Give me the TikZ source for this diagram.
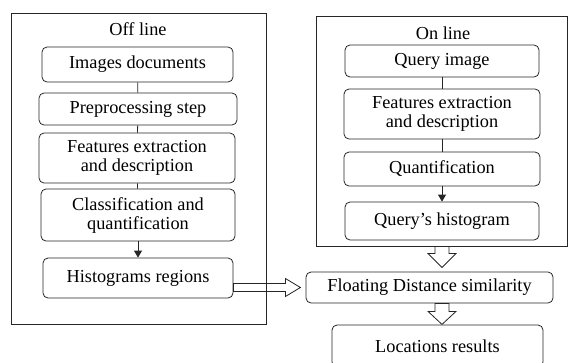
\documentclass[tikz,border=0pt]{standalone}
\usepackage{fontspec}
\setmainfont{Liberation Serif}
\usepackage{tikz}
\usetikzlibrary{arrows.meta,calc,positioning}

\begin{document}
\begin{tikzpicture}[x=1pt,y=-1pt,
    every node/.style={font=\fontsize{18.3}{19}\selectfont},
    frame/.style={draw=black!85,line width=0.9pt,inner sep=0pt},
    stepbox/.style={draw=black!85,line width=0.8pt,rounded corners=5pt,align=center,inner sep=0pt},
    link/.style={draw=black!85,line width=0.8pt},
    hollow/.style={draw=black!85,line width=0.8pt}]
    \useasboundingbox (0,0) rectangle (569,362);
    \clip (0,0) rectangle (569,362);

    % Frames
    \node[frame,minimum width=255pt,minimum height=311pt] (offframe) at (138.5,168.5) {};
    \node (offtitle) at (138,29) {Off line};
    \node[frame,minimum width=251pt,minimum height=230pt] (onframe) at (442,131) {};
    \node (ontitle) at (443,33) {On line};

    % Off line steps
    \node[stepbox,minimum width=191pt,minimum height=35pt] (imgdocs) at (137.5,64.5) {Images documents};
    \node[stepbox,minimum width=198pt,minimum height=32pt] (preproc) at (138,109) {Preprocessing step};
    \node[stepbox,minimum width=196pt,minimum height=50pt] (featoff) at (137,158) {Features extraction\\and description};
    \node[stepbox,minimum width=194pt,minimum height=52pt] (classif) at (138,215) {Classification and\\quantification};
    \node[stepbox,minimum width=190pt,minimum height=40pt] (histreg) at (138,278) {Histograms regions};

    % On line steps
    \node[stepbox,minimum width=194pt,minimum height=32pt] (query) at (442,61) {Query image};
    \node[stepbox,minimum width=196pt,minimum height=50pt] (featon) at (442,114) {Features extraction\\and description};
    \node[stepbox,minimum width=196pt,minimum height=34pt] (quant) at (442,169) {Quantification};
    \node[stepbox,minimum width=194pt,minimum height=38pt] (queryhist) at (442,221) {Query's histogram};

    % Matching
    \node[stepbox,minimum width=247pt,minimum height=31pt] (floatdist) at (429.5,287.5) {Floating Distance similarity};
    \node[stepbox,minimum width=211pt,minimum height=42pt] (locres) at (437.5,346) {Locations results};

    % Links
    \draw[link] (imgdocs) -- (preproc);
    \draw[link] (preproc) -- (featoff);
    \draw[link] (featoff) -- (classif);
    \draw[link,-{Triangle[length=7pt,width=8pt]}] (classif) -- (histreg);
    \draw[link] (query) -- (featon);
    \draw[link] (featon) -- (quant);
    \draw[link,-{Triangle[length=7pt,width=8pt]}] (quant) -- (queryhist);

    % Hollow arrows
    \draw[hollow] (histreg.east |- floatdist.west) ++(0,4pt) -- ++(52pt,0) -- ++(0,5pt)
        -- ++(15pt,-9pt) -- ++(-15pt,-9pt) -- ++(0,5pt) -- ++(-52pt,0) -- cycle;
    \draw[hollow] (onframe.south) ++(-7pt,0) -- ++(0,-7pt) -- ++(-7pt,0) -- ++(14pt,-14pt)
        -- ++(14pt,14pt) -- ++(-7pt,0) -- ++(0,7pt) -- cycle;
    \draw[hollow] (queryhist.south |- floatdist.south) ++(-7pt,0) -- ++(0,-8pt) -- ++(-7pt,0)
        -- ++(14pt,-13pt) -- ++(14pt,13pt) -- ++(-7pt,0) -- ++(0,8pt) -- cycle;
\end{tikzpicture}
\end{document}
